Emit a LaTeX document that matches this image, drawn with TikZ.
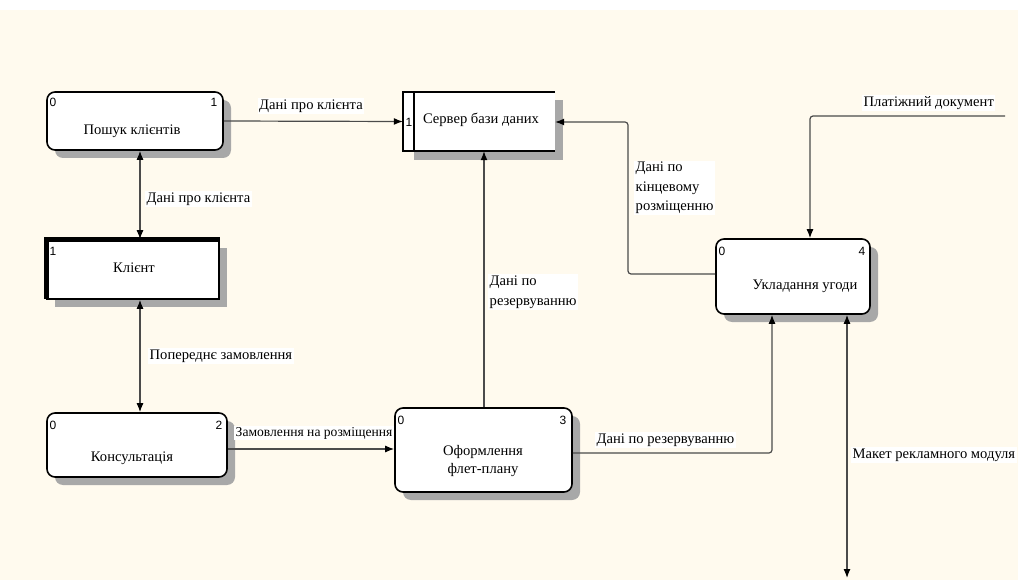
\documentclass[tikz,border=0pt]{standalone}
\usepackage{fontspec}
\setmainfont{Liberation Serif}
\newfontfamily\numfont{Liberation Sans}
\usetikzlibrary{arrows.meta,shadows,calc}

\definecolor{paper}{RGB}{255,250,238}
\definecolor{shadecol}{RGB}{168,168,168}
\definecolor{wire}{RGB}{75,75,75}

\tikzset{
  boxshadow/.style={drop shadow={shadow xshift=8pt,shadow yshift=-8pt,fill=shadecol,opacity=1}},
  procbox/.style={draw=black,line width=1.6pt,rounded corners=8pt,fill=white,inner sep=0pt,boxshadow},
  entbox/.style={draw=black,line width=1.6pt,fill=white,inner sep=0pt,boxshadow},
  boxtext/.style={font=\fontsize{14.6}{18.5}\selectfont,inner sep=0pt,align=center},
  num/.style={font=\numfont\fontsize{12}{13}\selectfont,inner sep=0pt},
  flowlabel/.style={font=\fontsize{14.6}{19.5}\selectfont,fill=white,inner sep=1.5pt,align=left},
  flow/.style={draw=wire,line width=1.2pt,rounded corners=3pt},
  tip/.style={-{Latex[length=9pt,width=7pt,color=black]}},
  tips/.style={{Latex[length=9pt,width=7pt,color=black]}-{Latex[length=9pt,width=7pt,color=black]}},
}

\begin{document}
\begin{tikzpicture}[x=1pt,y=-1pt]
  % canvas
  \useasboundingbox (0,0) rectangle (1018,580);
  \fill[paper] (0,0) rectangle (1018,580);
  \fill[white] (0,0) rectangle (1018,10);

  % ---------- processes ----------
  \node[procbox,minimum width=176pt,minimum height=58pt] (A) at (135,121) {};
  \node[boxtext] (At) at (132,131) {Пошук клієнтів};
  \node[num] (A0) at (53,102) {0};
  \node[num] (A1) at (214,102) {1};

  \node[procbox,minimum width=180pt,minimum height=64pt] (C) at (137,445) {};
  \node[boxtext] (Ct) at (132,458) {Консультація};
  \node[num] (C0) at (53,425) {0};
  \node[num] (C2) at (219,425) {2};

  \node[procbox,minimum width=177pt,minimum height=84pt] (O) at (483.5,450) {};
  \node[boxtext] (Ot) at (483,461) {Оформлення\\флет-плану};
  \node[num] (O0) at (401,420) {0};
  \node[num] (O3) at (563,420) {3};

  \node[procbox,minimum width=154pt,minimum height=75pt] (U) at (793,276.5) {};
  \node[boxtext] (Ut) at (805,286) {Укладання угоди};
  \node[num] (U0) at (722,251) {0};
  \node[num] (U4) at (862,251) {4};

  % ---------- external entity ----------
  \node[entbox,minimum width=172pt,minimum height=59pt] (K) at (133,269.5) {};
  \draw[line width=5pt] ($(K.south west)+(0,-1)$) -- (K.north west) -- (K.north east);
  \node[boxtext] (Kt) at (134,268) {Клієнт};
  \node[num] (K1) at (53,251) {1};

  % ---------- data store (open on the right) ----------
  \fill[shadecol] (555,100) rectangle (563,160);
  \fill[shadecol] (414,151) rectangle (563,160);
  \fill[white] (403,92) rectangle (555,151);
  \node[minimum width=152pt,minimum height=59pt,inner sep=0pt] (S) at (479,121.5) {};
  \draw[line width=1.6pt] (555,92) -- (403,92) -- (403,151) -- (555,151);
  \draw[line width=1.6pt] (414,92) -- (414,151);
  \node[boxtext] (St) at (481,120) {Сервер бази даних};
  \node[num] (S1) at (409,122) {1};

  % ---------- guide coordinates for connector routes ----------
  \coordinate (colL) at (140,0);
  \coordinate (rowC) at (0,449);
  \coordinate (colO) at (484,0);
  \coordinate (rowO) at (0,453);
  \coordinate (colR) at (772,0);
  \coordinate (bendUa) at (628,274);
  \coordinate (bendUb) at (628,122);
  \coordinate (payIn) at (1005,116);
  \coordinate (bendPay) at (810,116);
  \coordinate (colM) at (847,0);
  \coordinate (mockOut) at (847,578);

  % ---------- data flows ----------
  \draw[flow,tip] (A.east) -- (S.west);
  \draw[flow,tips] (A.south -| colL) -- (K.north -| colL);
  \draw[flow,tips] (K.south -| colL) -- (C.north -| colL);
  \draw[flow,tip] (C.east |- rowC) -- (O.west |- rowC);
  \draw[flow,tip] (O.north -| colO) -- (S.south -| colO);
  \draw[flow,tip] (O.east |- rowO) -| (U.south -| colR);
  \draw[flow,tip] (U.west |- bendUa) -- (bendUa) -- (bendUb) -- (S.east |- bendUb);
  \draw[flow,tip] (payIn) -- (bendPay) -- (U.north -| bendPay);
  \draw[flow,tips] (U.south -| colM) -- (mockOut);

  % ---------- flow labels ----------
  \node[flowlabel] (l1) at (311,106) {Дані про клієнта};
  \node[flowlabel,anchor=west] (l2) at (145,199) {Дані про клієнта};
  \node[flowlabel,anchor=west] (l3) at (148,356) {Попереднє замовлення};
  \node[flowlabel,anchor=west,font=\fontsize{13.6}{18}\selectfont] (l4) at (234,433) {Замовлення на розміщення};
  \node[flowlabel,anchor=west] (l5) at (488,292) {Дані по\\резервуванню};
  \node[flowlabel,anchor=west] (l6) at (595,440) {Дані по резервуванню};
  \node[flowlabel,anchor=west] (l7) at (634,188) {Дані по\\кінцевому\\розміщенню};
  \node[flowlabel,anchor=west] (l8) at (862,103) {Платіжний документ};
  \node[flowlabel,anchor=west] (l9) at (851,455) {Макет рекламного модуля};
\end{tikzpicture}
\end{document}
